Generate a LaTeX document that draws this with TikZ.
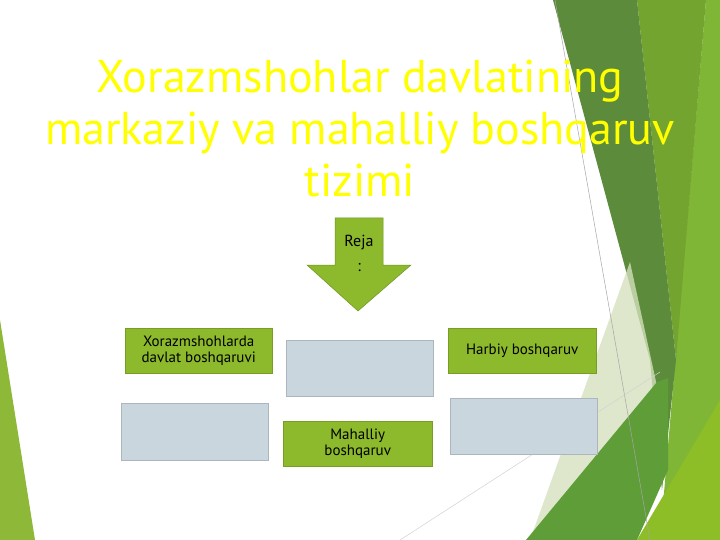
\documentclass[tikz,border=0pt]{standalone}
\usepackage{fontspec}
\setmainfont{PT Sans}
\begin{document}
\begin{tikzpicture}[x=1pt,y=-1pt,
  greenbox/.style={fill=boxgreen,draw=boxgreen!85!black,line width=0.4pt,inner sep=0pt,anchor=north west,align=center,font=\fontsize{15}{16}\selectfont,text=black},
  graybox/.style={fill=boxgray,draw=boxgray!85!black,line width=0.4pt,inner sep=0pt,anchor=north west}]
\definecolor{boxgreen}{HTML}{8DB92C}
\definecolor{boxgray}{HTML}{CAD6DD}
\definecolor{darkband}{HTML}{5B8B3B}
\definecolor{midgreen}{HTML}{72A42F}
\definecolor{lightright}{HTML}{80B636}
\definecolor{pale}{HTML}{D5E1BE}
\definecolor{medgreen}{HTML}{5E9D38}
\definecolor{yellowgreen}{HTML}{8DBD27}
\definecolor{lefttri}{HTML}{8DB838}
\definecolor{titleyellow}{HTML}{FFFF00}
\useasboundingbox (0,0) rectangle (720,540);
\fill[white] (0,0) rectangle (720,540);
% background facets
\fill[lightright] (706,0) -- (720,0) -- (720,540) -- (660,540) -- cycle;
\fill[midgreen] (637,0) -- (706,0) -- (676,360) -- cycle;
\fill[darkband] (553,0) -- (637,0) -- (676,360) -- (662,490) -- (650,360) -- cycle;
\fill[pale,opacity=0.78] (630,262) -- (660,400) -- (530,540) -- cycle;
\fill[medgreen] (526,540) -- (657,382) -- (668,378) -- (668,470) -- (637,540) -- cycle;
\fill[yellowgreen] (637,540) -- (720,400) -- (720,540) -- cycle;
\fill[lefttri] (0,320) -- (35,540) -- (0,540) -- cycle;
\draw[gray!70,line width=0.5pt] (555,0) -- (650,540);
\draw[gray!35,line width=0.5pt] (400,540) -- (660,372);
% title
\node[text=titleyellow,align=center,font=\fontsize{46}{52}\selectfont] (title) at (360,128)
  {Xorazmshohlar davlatining\\markaziy va mahalliy boshqaruv\\tizimi};
% arrow
\filldraw[fill=boxgreen,draw=boxgreen!80!black,line width=0.5pt]
  (335,218) -- (383,218) -- (383,265) -- (411,265) -- (358,311) -- (307,265) -- (335,265) -- cycle;
\node[align=center,font=\fontsize{16}{25}\selectfont,text=black] (reja) at (359,253) {Reja\\:};
% boxes
\node[greenbox,minimum width=147,minimum height=45] (b1) at (125,328) {Xorazmshohlarda\\davlat boshqaruvi};
\node[graybox,minimum width=147,minimum height=56] (g1) at (286,340) {};
\node[greenbox,minimum width=148,minimum height=45] (b3) at (448,328) {Harbiy boshqaruv};
\node[graybox,minimum width=147,minimum height=57] (g2) at (121,403) {};
\node[greenbox,minimum width=149,minimum height=45] (b2) at (283,421) {Mahalliy\\boshqaruv};
\node[graybox,minimum width=147,minimum height=56] (g3) at (450,398) {};
\end{tikzpicture}
\end{document}
